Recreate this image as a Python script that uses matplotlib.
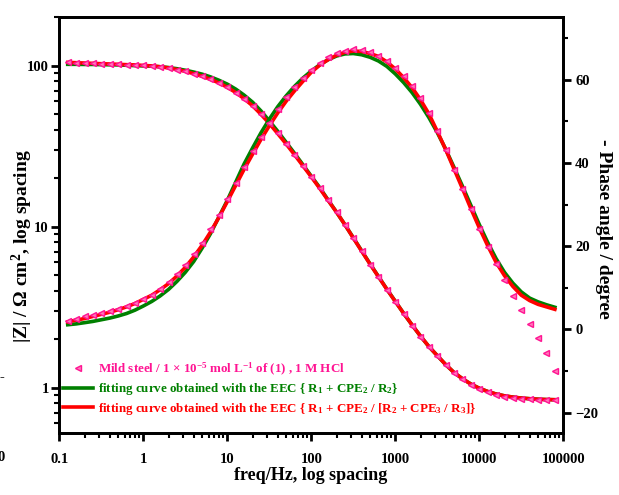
import numpy as np
import matplotlib
matplotlib.use("Agg")
import matplotlib.pyplot as plt
from matplotlib.ticker import LogLocator, NullFormatter, MultipleLocator
from matplotlib.lines import Line2D

plt.rcParams['font.family'] = ['Liberation Serif', 'DejaVu Serif']
plt.rcParams['font.weight'] = 'bold'
plt.rcParams['axes.labelweight'] = 'bold'
plt.rcParams['mathtext.fontset'] = 'custom'
plt.rcParams['mathtext.rm'] = 'Liberation Serif:bold'
plt.rcParams['mathtext.bf'] = 'Liberation Serif:bold'
plt.rcParams['mathtext.it'] = 'Liberation Serif:bold:italic'

# === data ===
freq = [0.126, 0.158, 0.2, 0.251, 0.316, 0.398, 0.501, 0.631, 0.794,
        1.0, 1.26, 1.58, 2.0, 2.51, 3.16, 3.98, 5.01, 6.31, 7.94,
        10.0, 12.6, 15.8, 20.0, 25.1, 31.6, 39.8, 50.1, 63.1, 79.4,
        100, 126, 158, 200, 251, 316, 398, 501, 631, 794,
        1000, 1259, 1585, 1995, 2512, 3162, 3981, 5012, 6310, 7943,
        10000, 12589, 15849, 19953, 25119, 31623, 39811, 50119, 63096, 79433]

# |Z| (ohm cm2)
z_meas = [105.7, 104.6, 103.8, 103.5, 102.9, 102.5, 102.2, 101.6, 101.1, 100.6,
          99.8, 98.7, 97.0, 94.7, 92.3, 89.3, 86.0, 82.2, 78.1, 73.4,
          68.2, 62.6, 56.6, 50.3, 43.9, 38.0, 32.6, 27.9, 23.8, 20.4,
          17.3, 14.6, 12.3, 10.3, 8.50, 7.02, 5.82, 4.86, 4.07, 3.40,
          2.87, 2.43, 2.07, 1.79, 1.57, 1.38, 1.23, 1.125, 1.045, 0.982,
          0.937, 0.901, 0.878, 0.864, 0.853, 0.846, 0.842, 0.839, 0.839]
z_fit2 = [102.1, 102.1, 101.9, 101.9, 101.6, 101.4, 101.2, 100.7, 100.2, 99.8,
          99.5, 98.6, 97.5, 95.9, 93.8, 91.4, 88.7, 85.3, 81.3, 76.9,
          71.6, 65.8, 59.4, 52.5, 45.5, 39.2, 33.5, 28.6, 24.3, 20.6,
          17.5, 14.7, 12.3, 10.3, 8.55, 7.08, 5.87, 4.90, 4.09, 3.44,
          2.89, 2.45, 2.09, 1.80, 1.58, 1.39, 1.24, 1.135, 1.052, 0.991,
          0.946, 0.912, 0.889, 0.873, 0.861, 0.853, 0.847, 0.843, 0.841]
z_fit3 = [105.0, 104.5, 104.0, 103.5, 103.0, 102.6, 102.1, 101.6, 101.2, 100.5,
          99.8, 98.6, 97.0, 94.8, 92.3, 89.3, 86.1, 82.4, 78.2, 73.5,
          68.2, 62.5, 56.4, 50.0, 43.8, 37.9, 32.7, 28.0, 23.9, 20.4,
          17.3, 14.6, 12.3, 10.3, 8.51, 7.05, 5.85, 4.88, 4.08, 3.43,
          2.89, 2.45, 2.09, 1.80, 1.58, 1.39, 1.24, 1.135, 1.052, 0.991,
          0.946, 0.912, 0.889, 0.873, 0.861, 0.853, 0.847, 0.843, 0.841]

# - phase angle (degree)
ph_meas = [2.1, 2.5, 3.1, 3.5, 3.9, 4.5, 5.0, 5.6, 6.4, 7.3,
           8.3, 9.7, 11.3, 13.2, 15.5, 18.0, 20.8, 24.0, 27.6, 31.4,
           35.2, 39.1, 42.8, 46.3, 49.7, 53.0, 55.8, 58.2, 60.4, 62.4,
           64.0, 65.4, 66.4, 67.0, 67.3, 67.2, 66.7, 65.8, 64.5, 62.9,
           60.8, 58.4, 55.5, 52.1, 47.6, 43.2, 38.4, 33.8, 28.9, 24.2,
           19.8, 15.7, 11.9, 8.1, 4.7, 1.2, -2.1, -5.8, -10.0]
ph_fit2 = [1.1, 1.3, 1.6, 1.9, 2.3, 2.7, 3.2, 3.8, 4.6, 5.6,
           6.7, 8.0, 9.6, 11.5, 13.7, 16.3, 19.5, 23.0, 27.0, 31.0,
           35.4, 39.7, 43.6, 47.2, 50.5, 53.5, 56.1, 58.4, 60.4, 62.1,
           63.6, 64.8, 65.7, 66.2, 66.3, 66.0, 65.4, 64.5, 63.2, 61.4,
           59.3, 56.9, 54.1, 50.9, 47.3, 43.3, 38.9, 34.4, 29.8, 25.2,
           20.9, 17.0, 13.7, 11.1, 9.0, 7.5, 6.6, 5.9, 5.3]
ph_fit3 = [1.8, 2.2, 2.6, 3.1, 3.6, 4.1, 4.7, 5.4, 6.2, 7.2,
           8.2, 9.5, 11.0, 12.8, 14.9, 17.4, 20.2, 23.4, 26.9, 30.7,
           34.6, 38.4, 42.1, 45.6, 48.9, 52.0, 54.8, 57.3, 59.6, 61.8,
           63.5, 64.8, 65.9, 66.6, 66.9, 66.8, 66.3, 65.6, 64.3, 62.6,
           60.5, 58.1, 55.2, 51.8, 47.6, 43.2, 38.5, 33.8, 29.0, 24.4,
           20.1, 16.1, 12.9, 10.3, 8.2, 6.9, 6.0, 5.4, 4.8]

x_ticks = [0.1, 1, 10, 100, 1000, 10000, 100000]
x_labels = ['0.1', '1', '10', '100', '1000', '10000', '100000']
y_ticks = [1, 10, 100]
y_labels = ['1', '10', '100']

PINK = '#ff1493'
GREEN = '#008000'
RED = '#ff0000'

lbl_meas = r'Mild steel / 1 $\times$ 10$^{-5}$ mol L$^{-1}$ of (1) , 1 M HCl'
lbl_fit2 = r'fitting curve obtained with the EEC { R$_1$ + CPE$_2$ / R$_2$}'
lbl_fit3 = r'fitting curve obtained with the EEC { R$_1$ + CPE$_2$ / [R$_2$ + CPE$_3$ / R$_3$]}'

fig = plt.figure(figsize=(6.19, 4.95), dpi=100)
ax = fig.add_axes([0.0958, 0.1246, 0.8142, 0.8404])
ax2 = ax.twinx()

# |Z| curves
ax.plot(freq, z_fit2, color=GREEN, lw=2.6, zorder=2)
ax.plot(freq, z_fit3, color=RED, lw=2.6, zorder=3)
ax.plot(freq, z_meas, ls='none', marker='<', ms=5, mfc='#ff7ab8', mec=PINK,
        mew=1.0, zorder=4)

# phase curves
ax2.plot(freq, ph_fit2, color=GREEN, lw=2.6, zorder=2)
ax2.plot(freq, ph_fit3, color=RED, lw=2.6, zorder=3)
ax2.plot(freq, ph_meas, ls='none', marker='<', ms=5, mfc='#ff7ab8', mec=PINK,
         mew=1.0, zorder=4)

ax.set_xscale('log')
ax.set_yscale('log')
ax.set_xlim(0.1, 100000)
ax.set_ylim(0.52, 200)
ax2.set_ylim(-25, 75)

ax.set_xticks(x_ticks)
ax.set_xticklabels(x_labels)
ax.set_yticks(y_ticks)
ax.set_yticklabels(y_labels)
ax.xaxis.set_minor_locator(LogLocator(base=10, subs=np.arange(2, 10), numticks=20))
ax.yaxis.set_minor_locator(LogLocator(base=10, subs=np.arange(2, 10), numticks=20))
ax.xaxis.set_minor_formatter(NullFormatter())
ax.yaxis.set_minor_formatter(NullFormatter())
ax2.yaxis.set_major_locator(MultipleLocator(20))
ax2.yaxis.set_minor_locator(MultipleLocator(10))

for a in (ax, ax2):
    for s in a.spines.values():
        s.set_linewidth(2.0)
ax.tick_params(axis='both', which='major', direction='out', length=6, width=2,
               labelsize=10.5)
ax.tick_params(axis='both', which='minor', direction='out', length=3.5, width=1.5)
ax.tick_params(axis='x', which='major', pad=8)
ax.tick_params(axis='y', which='major', pad=1.5)
ax.tick_params(axis='x', which='both', top=False)
ax.tick_params(axis='y', which='both', right=False)
ax2.tick_params(axis='y', which='major', direction='out', length=6, width=2,
                labelsize=10.5, pad=2.5)
ax2.tick_params(axis='y', which='minor', direction='out', length=3.5, width=1.5)

ax.set_xlabel('freq/Hz, log spacing', fontsize=13)
ax.set_ylabel(r'|Z| / Ω cm$^2$, log spacing', fontsize=14)
ax2.set_ylabel('- Phase angle / degree', fontsize=14, rotation=270)
ax.xaxis.set_label_coords(0.498, -0.08)
ax.yaxis.set_label_coords(-0.073, 0.45)
ax2.yaxis.set_label_coords(1.0788, 0.491)
ax.yaxis.label.set_verticalalignment('center')
ax2.yaxis.label.set_verticalalignment('center')

handles = [Line2D([], [], ls='none', marker='<', ms=5, mfc='#ff7ab8', mec=PINK, mew=1.0),
           Line2D([], [], color=GREEN, lw=2.6),
           Line2D([], [], color=RED, lw=2.6)]
leg = ax2.legend(handles, [lbl_meas, lbl_fit2, lbl_fit3], loc='lower left',
                 bbox_to_anchor=(0.008, 0.04), frameon=False, fontsize=9.4,
                 handlelength=2.3, handletextpad=0.35, labelspacing=0.25,
                 borderpad=0, borderaxespad=0, numpoints=1)
for txt, col in zip(leg.get_texts(), [PINK, GREEN, RED]):
    txt.set_color(col)

# fragments of the neighbouring panel cut at the left edge
fig.text(-0.004, 0.075, '0', fontsize=10.5, ha='left', va='center')
fig.text(0.0, 0.238, '-', fontsize=10.5, ha='left', va='center')

fig.savefig('out.png', dpi=100)
